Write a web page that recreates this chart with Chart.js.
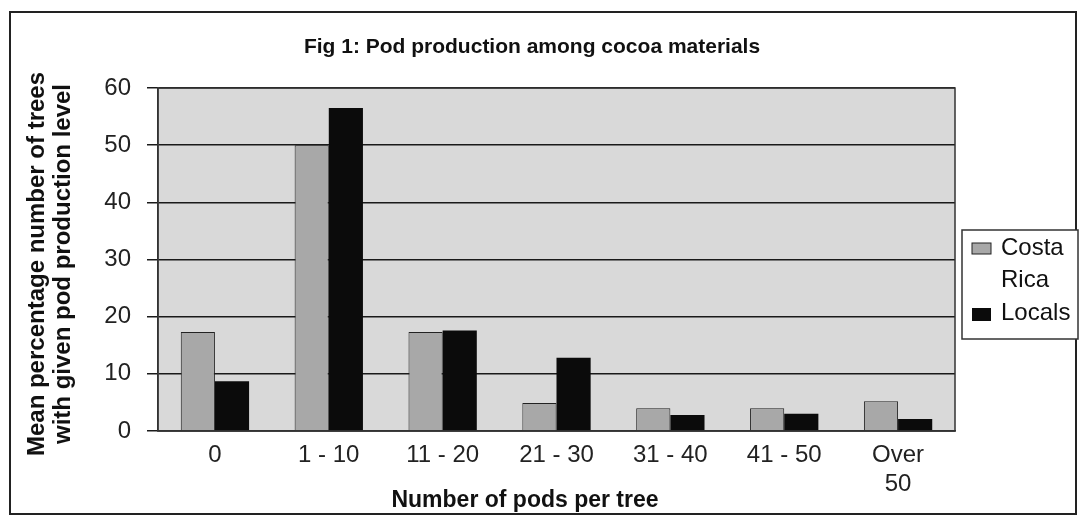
<!DOCTYPE html>
<html>
<head>
<meta charset="utf-8">
<script src="https://cdn.jsdelivr.net/npm/chart.js@4.4.0/dist/chart.umd.min.js"></script>
<style>
  html, body { margin: 0; padding: 0; background: #fff; overflow: hidden; }
  canvas { display: block; }
</style>
</head>
<body>
<canvas id="grafico" width="1082" height="518"></canvas>
<script>
// dados
const categorias = ['0', '1 - 10', '11 - 20', '21 - 30', '31 - 40', '41 - 50', ['Over', '50']];
const costaRica = [17.3, 50, 17.3, 4.9, 4.0, 4.0, 5.2];
const locais = [8.7, 56.5, 17.6, 12.8, 2.8, 3.0, 2.1];
const ticksY = [0, 10, 20, 30, 40, 50, 60];

const fonte = '"Liberation Sans", Arial, sans-serif';

// fundo cinza da area do grafico, moldura externa, titulos e legenda
const extras = {
    id: 'extras',
    beforeDraw(chart) {
        const ctx = chart.ctx;
        const a = chart.chartArea;
        ctx.save();
        ctx.fillStyle = '#fff';
        ctx.fillRect(0, 0, chart.width, chart.height);
        ctx.fillStyle = '#d9d9d9';
        ctx.fillRect(a.left, a.top, a.right - a.left, a.bottom - a.top);
        ctx.restore();
    },
    afterDraw(chart) {
        const ctx = chart.ctx;
        const a = chart.chartArea;
        ctx.save();
        // moldura externa
        ctx.strokeStyle = '#222';
        ctx.lineWidth = 2;
        ctx.strokeRect(10, 12, 1066, 502);
        // borda da area do grafico
        ctx.lineWidth = 1.5;
        ctx.strokeStyle = '#333';
        ctx.strokeRect(a.left, a.top, a.right - a.left, a.bottom - a.top);

        ctx.fillStyle = '#111';
        ctx.textAlign = 'center';
        ctx.textBaseline = 'alphabetic';
        // titulo
        ctx.font = 'bold 21px ' + fonte;
        ctx.fillText('Fig 1: Pod production among cocoa materials', 532, 53);
        // titulo eixo x
        ctx.font = 'bold 23px ' + fonte;
        ctx.fillText('Number of pods per tree', 525, 507);
        // titulo eixo y (duas linhas)
        ctx.font = 'bold 24px ' + fonte;
        ctx.translate(0, 264);
        ctx.rotate(-Math.PI / 2);
        ctx.fillText('Mean percentage number of trees', 0, 44);
        ctx.fillText('with given pod production level', 0, 70);
        ctx.restore();

        // legenda
        ctx.save();
        ctx.strokeStyle = '#333';
        ctx.lineWidth = 1.5;
        ctx.fillStyle = '#fff';
        ctx.fillRect(962, 230, 116, 109);
        ctx.strokeRect(962, 230, 116, 109);
        const ds = chart.data.datasets;
        ctx.font = '24px ' + fonte;
        ctx.textAlign = 'left';
        ctx.textBaseline = 'middle';
        ctx.lineWidth = 1;
        ctx.fillStyle = ds[0].backgroundColor;
        ctx.fillRect(972, 243, 19, 11);
        ctx.strokeStyle = '#222';
        ctx.strokeRect(972, 243, 19, 11);
        ctx.fillStyle = ds[1].backgroundColor;
        ctx.fillRect(972, 308, 19, 13);
        ctx.fillStyle = '#111';
        ctx.fillText('Costa', 1001, 248);
        ctx.fillText('Rica', 1001, 280);
        ctx.fillText('Locals', 1001, 313);
        ctx.restore();
    }
};

new Chart(document.getElementById('grafico'), {
    type: 'bar',
    data: {
        labels: categorias,
        datasets: [{
            label: 'Costa Rica',
            data: costaRica,
            backgroundColor: '#a8a8a8',
            borderColor: '#222',
            borderWidth: 1,
            categoryPercentage: 0.6,
            barPercentage: 1.0
        }, {
            label: 'Locals',
            data: locais,
            backgroundColor: '#0b0b0b',
            borderColor: '#0b0b0b',
            borderWidth: 0,
            categoryPercentage: 0.6,
            barPercentage: 1.0
        }]
    },
    options: {
        responsive: false,
        animation: false,
        devicePixelRatio: 1,
        layout: { padding: { top: 88, right: 127, left: 0, bottom: 0 } },
        plugins: {
            legend: { display: false },
            tooltip: { enabled: false }
        },
        scales: {
            x: {
                afterFit: (s) => { s.height = 87; },
                grid: { display: false, drawTicks: false },
                border: { display: true, color: '#333', width: 1.5 },
                ticks: {
                    color: '#222',
                    font: { family: fonte, size: 24, lineHeight: 1.2 },
                    padding: 10,
                    maxRotation: 0
                }
            },
            y: {
                min: 0,
                max: 60,
                afterFit: (s) => { s.width = 158; },
                grid: { color: '#1a1a1a', lineWidth: 1.5, tickLength: 11, tickColor: '#1a1a1a' },
                border: { display: true, color: '#333', width: 1.5 },
                ticks: {
                    stepSize: 10,
                    color: '#222',
                    font: { family: fonte, size: 24 },
                    padding: 16
                }
            }
        }
    },
    plugins: [extras]
});
</script>
</body>
</html>
